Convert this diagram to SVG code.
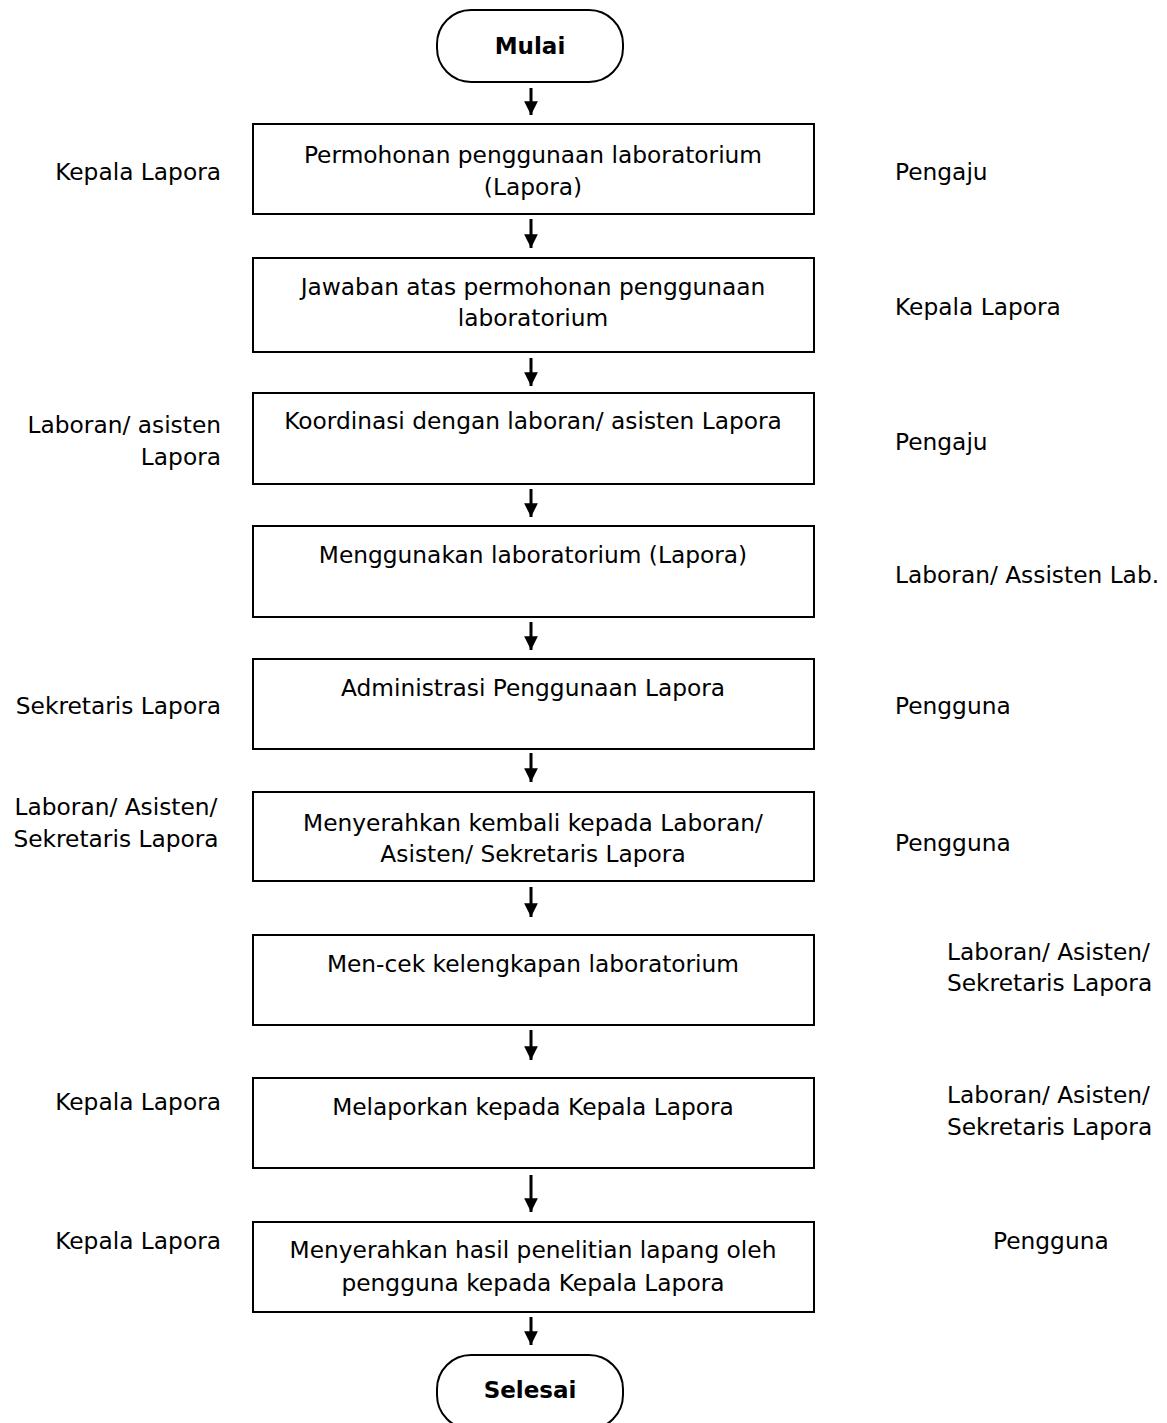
<svg xmlns="http://www.w3.org/2000/svg" width="1167" height="1423" viewBox="0 0 1167 1423">
<style>
.box{fill:#fff;stroke:#000;stroke-width:2}
.term{fill:#fff;stroke:#000;stroke-width:2}
.t{font-family:"DejaVu Sans",Verdana,sans-serif;font-size:23.3px;fill:#000;text-anchor:middle}
.b{font-family:"DejaVu Sans",Verdana,sans-serif;font-size:23px;font-weight:bold;fill:#000;text-anchor:middle}
.l{font-family:"DejaVu Sans",Verdana,sans-serif;font-size:23.3px;fill:#000;text-anchor:end}
.r{font-family:"DejaVu Sans",Verdana,sans-serif;font-size:23.3px;fill:#000;text-anchor:start}
.c{font-family:"DejaVu Sans",Verdana,sans-serif;font-size:23.3px;fill:#000;text-anchor:middle}
.ar{stroke:#000;stroke-width:3;fill:none;marker-end:url(#ah)}
</style>
<defs>
<marker id="ah" viewBox="0 0 10 10" refX="10" refY="5" markerWidth="4.6" markerHeight="4.6" markerUnits="strokeWidth" orient="auto">
<path d="M0,0 L10,5 L0,10 Z" fill="#000"/>
</marker>
</defs>
<rect width="1167" height="1423" fill="#fff"/>

<g id="connectors">
<line class="ar" x1="531" y1="88" x2="531" y2="115"/>
<line class="ar" x1="531" y1="219" x2="531" y2="248"/>
<line class="ar" x1="531" y1="358" x2="531" y2="386"/>
<line class="ar" x1="531" y1="489" x2="531" y2="517"/>
<line class="ar" x1="531" y1="622" x2="531" y2="650"/>
<line class="ar" x1="531" y1="753" x2="531" y2="782"/>
<line class="ar" x1="531" y1="887" x2="531" y2="917"/>
<line class="ar" x1="531" y1="1030" x2="531" y2="1060"/>
<line class="ar" x1="531" y1="1175" x2="531" y2="1212"/>
<line class="ar" x1="531" y1="1317" x2="531" y2="1345"/>
</g>

<g id="start">
<rect class="term" x="437" y="10" width="186" height="72" rx="34" ry="34"/>
<text class="b" x="530" y="54">Mulai</text>
</g>

<g id="step1">
<rect class="box" x="253" y="124" width="561" height="90"/>
<text class="t" x="533" y="163">Permohonan penggunaan laboratorium</text>
<text class="t" x="533" y="195">(Lapora)</text>
</g>
<g id="step2">
<rect class="box" x="253" y="258" width="561" height="94"/>
<text class="t" x="533" y="295">Jawaban atas permohonan penggunaan</text>
<text class="t" x="533" y="326">laboratorium</text>
</g>
<g id="step3">
<rect class="box" x="253" y="393" width="561" height="91"/>
<text class="t" x="533" y="429">Koordinasi dengan laboran/ asisten Lapora</text>
</g>
<g id="step4">
<rect class="box" x="253" y="526" width="561" height="91"/>
<text class="t" x="533" y="563">Menggunakan laboratorium (Lapora)</text>
</g>
<g id="step5">
<rect class="box" x="253" y="659" width="561" height="90"/>
<text class="t" x="533" y="696">Administrasi Penggunaan Lapora</text>
</g>
<g id="step6">
<rect class="box" x="253" y="792" width="561" height="89"/>
<text class="t" x="533" y="831">Menyerahkan kembali kepada Laboran/</text>
<text class="t" x="533" y="862">Asisten/ Sekretaris Lapora</text>
</g>
<g id="step7">
<rect class="box" x="253" y="935" width="561" height="90"/>
<text class="t" x="533" y="972">Men-cek kelengkapan laboratorium</text>
</g>
<g id="step8">
<rect class="box" x="253" y="1078" width="561" height="90"/>
<text class="t" x="533" y="1115">Melaporkan kepada Kepala Lapora</text>
</g>
<g id="step9">
<rect class="box" x="253" y="1222" width="561" height="90"/>
<text class="t" x="533" y="1258">Menyerahkan hasil penelitian lapang oleh</text>
<text class="t" x="533" y="1291">pengguna kepada Kepala Lapora</text>
</g>

<g id="end">
<rect class="term" x="437" y="1355" width="186" height="74" rx="34" ry="34"/>
<text class="b" x="530" y="1398">Selesai</text>
</g>

<g id="left-labels">
<text class="l" x="221" y="180">Kepala Lapora</text>
<text class="l" x="221" y="433">Laboran/ asisten</text>
<text class="l" x="221" y="465">Lapora</text>
<text class="l" x="221" y="714">Sekretaris Lapora</text>
<text class="c" x="116" y="815">Laboran/ Asisten/</text>
<text class="c" x="116" y="847">Sekretaris Lapora</text>
<text class="l" x="221" y="1110">Kepala Lapora</text>
<text class="l" x="221" y="1249">Kepala Lapora</text>
</g>

<g id="right-labels">
<text class="r" x="895" y="180">Pengaju</text>
<text class="r" x="895" y="315">Kepala Lapora</text>
<text class="r" x="895" y="450">Pengaju</text>
<text class="r" x="895" y="583">Laboran/ Assisten Lab.</text>
<text class="r" x="895" y="714">Pengguna</text>
<text class="r" x="895" y="851">Pengguna</text>
<text class="r" x="947" y="960">Laboran/ Asisten/</text>
<text class="r" x="947" y="991">Sekretaris Lapora</text>
<text class="r" x="947" y="1103">Laboran/ Asisten/</text>
<text class="r" x="947" y="1135">Sekretaris Lapora</text>
<text class="r" x="993" y="1249">Pengguna</text>
</g>
</svg>
